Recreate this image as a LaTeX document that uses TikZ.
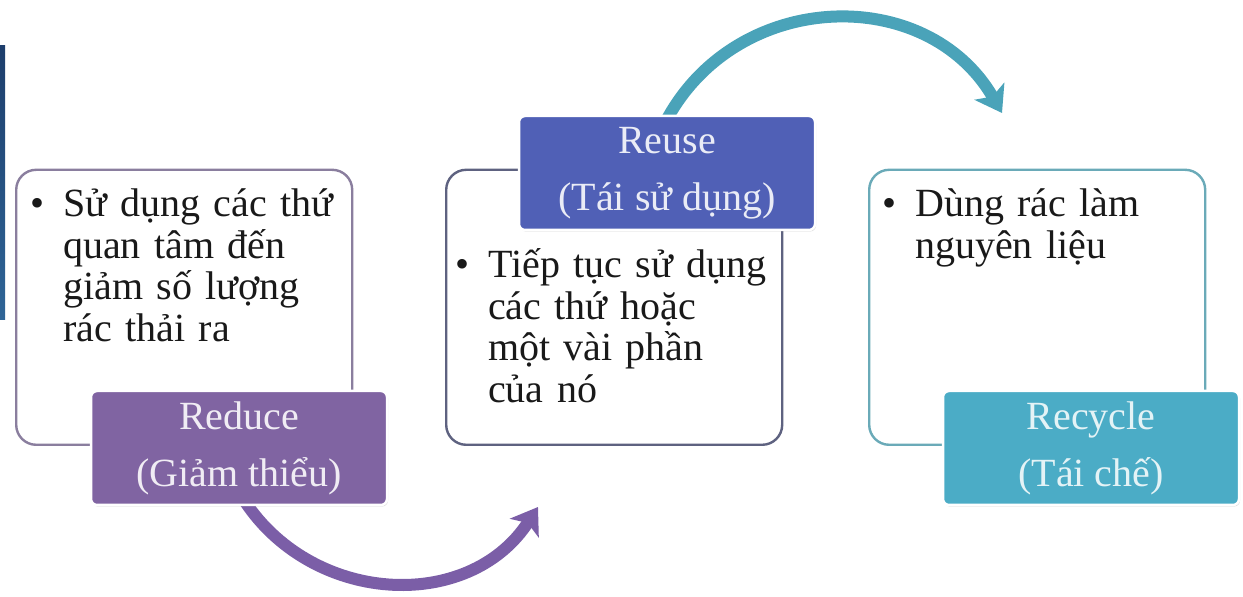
\documentclass[tikz,border=0pt]{standalone}
\usepackage{fontspec}
\setmainfont{Liberation Serif}
\usetikzlibrary{arrows.meta,shadows}
\definecolor{redpurple}{HTML}{8064A2}
\definecolor{reuseblue}{HTML}{5060B6}
\definecolor{recyteal}{HTML}{4BACC6}
\definecolor{arcpurple}{HTML}{7B5EA7}
\definecolor{arcteal}{HTML}{4AA3B9}
\definecolor{edgepurple}{HTML}{8A7E9E}
\definecolor{edgeblue}{HTML}{5E6280}
\definecolor{edgeteal}{HTML}{6AAAB8}
\definecolor{bartop}{HTML}{1D3E6C}
\definecolor{barbottom}{HTML}{2F6597}
\begin{document}
\begin{tikzpicture}[x=1pt, y=1pt,
  card/.style={draw, line width=2.4pt, rounded corners=20pt, fill=white, anchor=south west,
    minimum width=336pt, minimum height=275pt},
  tag/.style={rounded corners=6pt, draw=white, line width=2.5pt, minimum width=296pt,
    minimum height=114pt, align=center, font=\fontsize{40}{57}\selectfont,
    drop shadow={shadow xshift=1pt, shadow yshift=-1.5pt, opacity=.35}},
  body/.style={anchor=base west, align=left, text width=290pt, inner sep=0pt,
    font=\fontsize{40}{41.5}\selectfont, text=black!90},
  arcarrow/.style={line width=12pt, -{Stealth[width=34pt, length=25pt, inset=6pt]}}]
\useasboundingbox (0,0) rectangle (1243,597);
\shade[top color=bartop, bottom color=barbottom] (0,277) rectangle (5,551);

\node[card, draw=edgepurple] (reduceCard) at (15,151) {};
\node[card, draw=edgeblue] (reuseCard) at (445,151) {};
\node[card, draw=edgeteal] (recycleCard) at (868,151) {};

\node[body] (reduceTxt) at ([shift={(48,-48)}]reduceCard.north west)
  {\llap{\textbullet\hspace{19pt}}Sử dụng các thứ\\quan tâm đến\\giảm số lượng\\rác thải ra};
\node[body] (reuseTxt) at ([shift={(43,-109)}]reuseCard.north west)
  {\llap{\textbullet\hspace{19pt}}Tiếp tục sử dụng\\các thứ hoặc\\một vài phần\\của nó};
\node[body] (recycleTxt) at ([shift={(47,-48)}]recycleCard.north west)
  {\llap{\textbullet\hspace{19pt}}Dùng rác làm\\nguyên liệu};

\coordinate (redFrom) at (242,100);
\coordinate (reuseTo) at (538,90);
\coordinate (reuseFrom) at (666,476);
\coordinate (recycleTo) at (1002,484);
\draw[arcarrow, arcpurple] (redFrom) to[out=-58, in=-123, looseness=1.1] (reuseTo);
\draw[arcarrow, arcteal] (reuseFrom) to[out=62, in=120, looseness=1.14] (recycleTo);

\node[tag, fill=redpurple, text=white!88!redpurple] (reduce) at (239,149) {Reduce\\(Giảm thiểu)};
\node[tag, fill=reuseblue, text=white!88!reuseblue] (reuse) at (667,424) {Reuse\\(Tái sử dụng)};
\node[tag, fill=recyteal, text=white!85!recyteal] (recycle) at (1091,149) {Recycle\\(Tái chế)};
\end{tikzpicture}
\end{document}
